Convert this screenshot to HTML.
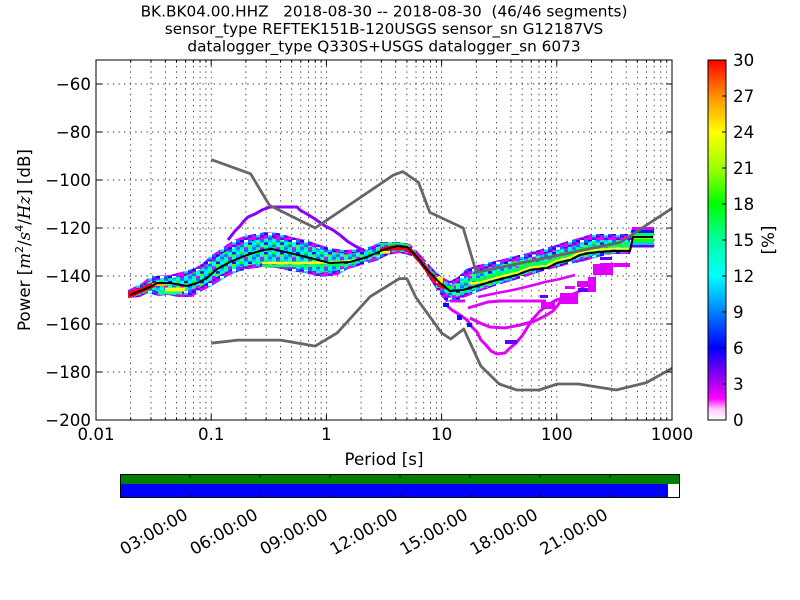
<!DOCTYPE html>
<html><head><meta charset="utf-8"><style>html,body{margin:0;padding:0;background:#fff;}svg{display:block;}</style></head>
<body>
<svg width="800" height="600" viewBox="0 0 800 600" xmlns="http://www.w3.org/2000/svg" font-family="'DejaVu Sans','Liberation Sans',sans-serif">
<defs>
<linearGradient id="cb" x1="0" y1="1" x2="0" y2="0">
<stop offset="0" stop-color="#ffffff"/>
<stop offset="0.03" stop-color="#ffc8ff"/>
<stop offset="0.06" stop-color="#ff00ff"/>
<stop offset="0.11" stop-color="#a000f0"/>
<stop offset="0.2" stop-color="#0000ff"/>
<stop offset="0.3" stop-color="#0080ff"/>
<stop offset="0.4" stop-color="#00ffff"/>
<stop offset="0.5" stop-color="#00ffa0"/>
<stop offset="0.6" stop-color="#00ff00"/>
<stop offset="0.7" stop-color="#a0ff00"/>
<stop offset="0.8" stop-color="#ffff00"/>
<stop offset="0.9" stop-color="#ff9000"/>
<stop offset="1" stop-color="#ff0000"/>
</linearGradient>
<pattern id="pe" width="12" height="7.2" patternUnits="userSpaceOnUse">
<rect x="0" y="0" width="4" height="2.4" fill="#e000fc"/><rect x="4" y="0" width="4" height="2.4" fill="#6400f5"/><rect x="8" y="0" width="4" height="2.4" fill="#e000fc"/>
<rect x="0" y="2.4" width="4" height="2.4" fill="#0014ff"/><rect x="4" y="2.4" width="4" height="2.4" fill="#ffffff"/><rect x="8" y="2.4" width="4" height="2.4" fill="#0073ff"/>
<rect x="0" y="4.8" width="4" height="2.4" fill="#e000fc"/><rect x="4" y="4.8" width="4" height="2.4" fill="#00c8ff"/><rect x="8" y="4.8" width="4" height="2.4" fill="#6400f5"/>
</pattern>
<pattern id="pc" width="16" height="9.6" patternUnits="userSpaceOnUse">
<rect x="0" y="0" width="4" height="2.4" fill="#00ffeb"/><rect x="4" y="0" width="4" height="2.4" fill="#0073ff"/><rect x="8" y="0" width="4" height="2.4" fill="#00ff96"/><rect x="12" y="0" width="4" height="2.4" fill="#00c8ff"/>
<rect x="0" y="2.4" width="4" height="2.4" fill="#00ff1e"/><rect x="4" y="2.4" width="4" height="2.4" fill="#00ffeb"/><rect x="8" y="2.4" width="4" height="2.4" fill="#0014ff"/><rect x="12" y="2.4" width="4" height="2.4" fill="#00ffeb"/>
<rect x="0" y="4.8" width="4" height="2.4" fill="#0073ff"/><rect x="4" y="4.8" width="4" height="2.4" fill="#00ffeb"/><rect x="8" y="4.8" width="4" height="2.4" fill="#50ff00"/><rect x="12" y="4.8" width="4" height="2.4" fill="#00c8ff"/>
<rect x="0" y="7.2" width="4" height="2.4" fill="#00ff96"/><rect x="4" y="7.2" width="4" height="2.4" fill="#e000fc"/><rect x="8" y="7.2" width="4" height="2.4" fill="#00ffeb"/><rect x="12" y="7.2" width="4" height="2.4" fill="#0073ff"/>
</pattern>
</defs>
<rect width="800" height="600" fill="#fff"/>

<!-- title -->
<g font-size="15.3" text-anchor="middle" fill="#000" style="white-space:pre">
<text x="384" y="16.5" xml:space="preserve">BK.BK04.00.HHZ   2018-08-30 -- 2018-08-30  (46/46 segments)</text>
<text x="384" y="34">sensor_type REFTEK151B-120USGS sensor_sn G12187VS</text>
<text x="384" y="51.5">datalogger_type Q330S+USGS datalogger_sn 6073</text>
</g>

<!-- grid -->
<g stroke="#000" stroke-width="0.7" stroke-dasharray="1.4,4.2" fill="none">
<path d="M130.68,420V60M150.96,420V60M165.36,420V60M176.52,420V60M185.64,420V60M193.35,420V60M200.04,420V60M205.93,420V60
M211.2,420V60M245.88,420V60M266.16,420V60M280.56,420V60M291.72,420V60M300.84,420V60M308.55,420V60M315.24,420V60M321.13,420V60
M326.4,420V60M361.08,420V60M381.36,420V60M395.76,420V60M406.92,420V60M416.04,420V60M423.75,420V60M430.44,420V60M436.33,420V60
M441.6,420V60M476.28,420V60M496.56,420V60M510.96,420V60M522.12,420V60M531.24,420V60M538.95,420V60M545.64,420V60M551.53,420V60
M556.8,420V60M591.48,420V60M611.76,420V60M626.16,420V60M637.32,420V60M646.44,420V60M654.15,420V60M660.84,420V60M666.73,420V60
M96,84H672M96,132H672M96,180H672M96,228H672M96,276H672M96,324H672M96,372H672"/>
</g>

<!-- histogram band -->
<polygon fill="url(#pe)" points="128,290 134,287 142,283 148,278 155,276 170,275 185,271 195,268 203,263 210,256 218,251 226,245 234,240 244,236 255,234 265,232 278,233 292,237 306,240 318,244 330,248 345,250 360,249 372,246 380,242 400,242 410,244 418,252 426,261 434,270 442,277 450,281 458,277 466,269 478,265 495,261 515,256 535,251 552,246 568,241 582,237 592,234 630,234 632,227 654,227 654,247 632,247 630,254 612,254 598,257 585,261 570,264 555,268 540,272 525,277 508,282 492,287 478,292 466,297 455,301 446,302 440,294 433,284 426,273 419,263 412,256 400,253 388,255 376,261 362,265 348,269 338,275 320,277 305,273 290,271 276,268 262,267 250,269 240,271 230,275 220,281 210,287 200,292 192,297 178,297 168,295 158,296 148,293 140,297 128,298"/>
<polygon fill="url(#pc)" points="131,292 140,288 150,281 165,279 185,276 200,270 212,261 225,252 240,245 255,240 270,238 290,242 310,246 330,252 350,254 370,250 382,245 400,245 412,249 422,259 432,271 442,280 452,285 462,280 475,272 495,266 520,260 545,254 570,247 595,240 630,240 630,252 600,254 580,259 560,264 540,269 520,276 500,283 480,289 465,294 452,298 442,290 432,278 422,266 412,254 400,251 385,253 372,259 355,264 340,270 320,273 300,269 280,265 262,263 245,266 230,270 215,278 200,287 185,291 165,292 150,291 140,295 131,297"/>

<!-- hot spots -->
<polygon fill="#ff0000" points="128,292 134,290 142,287 150,283 156,282 158,286 150,289 142,293 134,296 128,298"/>
<rect x="152" y="283" width="13" height="3" fill="#ffb400"/>
<rect x="165" y="287.5" width="20" height="4" fill="#ffff00"/>
<rect x="158" y="291.5" width="24" height="3" fill="#00ff96"/>
<polyline fill="none" stroke="#ffff00" stroke-width="2.5" points="262,263 300,263 340,262 358,260"/>
<polyline fill="none" stroke="#00ff60" stroke-width="2.5" points="262,266 300,266 345,265"/>
<polyline fill="none" stroke="#00ff60" stroke-width="2" points="380,244 400,243.5 410,246"/>
<polygon fill="#ff0000" points="380,248 390,245.5 405,245.5 412,249 418,255 425,264 432,273 440,281 446,286 444,290 436,285 428,275 420,264 413,256 405,250.5 390,250.5 380,252"/>
<rect x="380" y="251" width="10" height="2.5" fill="#ffff00"/>
<rect x="436" y="277" width="7" height="6" fill="#ffff00"/>
<rect x="446" y="286" width="8" height="3" fill="#00ff1e"/>
<polyline fill="none" stroke="#00ff50" stroke-width="3" points="470,280 480,279.5 497,274.5 517,269.5 530,264.5 547,262.5 557,257.5 570,254.5 580,249.5 590,247.5 600,246.5 613,245.5 630,245.5"/>
<polyline fill="none" stroke="#ffff00" stroke-width="2" points="470,283 480,282.5 497,277.5 517,272.5 530,267.5 547,265.5 557,260.5 570,257.5 580,252.5 590,250.5 600,249.5 613,248.5 630,248.5"/>
<rect x="632" y="227" width="22" height="3" fill="#e000fc"/>
<rect x="632" y="230" width="22" height="3" fill="#0014ff"/>
<rect x="632" y="233" width="22" height="3.5" fill="#00ff60"/>
<rect x="632" y="236.5" width="22" height="2" fill="#ffff00"/>
<rect x="632" y="238.5" width="22" height="4" fill="#00ff1e"/>
<rect x="632" y="242.5" width="22" height="2.5" fill="#00c8ff"/>
<rect x="632" y="245" width="22" height="2.5" fill="#6400f5"/>

<!-- secondary traces -->
<g fill="none" stroke="#e000fc" stroke-width="3" stroke-linejoin="miter">
<polyline points="444,303 452,310 460,315 467,320 472,327 477,332 481,340 486,345 491,351 497,354 505,353 510,348 516,343 522,336 527,328 532,320 540,311 548,305 556,300 566,297 578,292 586,284"/>
<polyline points="450,301 465,301"/>
<polyline points="468,308 478,305 488,302 500,301 546,301"/>
<polyline points="470,318 480,323 490,327 505,328 520,325 535,321 545,316 553,311 558,305 562,298"/>
<polyline stroke-width="2.5" points="478,297 497,293 513,290 530,286 545,282 560,279 575,275"/>
</g>
<g fill="#0014ff">
<rect x="443" y="303" width="6" height="4"/><rect x="457" y="315" width="5" height="5"/><rect x="467" y="323" width="5" height="4"/>
</g>
<g fill="#6400f5">
<rect x="505" y="340" width="12" height="4"/><rect x="578" y="288" width="10" height="4"/><rect x="600" y="257" width="12" height="3"/><rect x="540" y="295" width="8" height="3"/>
</g>
<g fill="#e000fc">
<rect x="593" y="264" width="20" height="11"/>
<rect x="600" y="263" width="30" height="4"/>
<rect x="588" y="277" width="8" height="15"/>
<rect x="577" y="281" width="11" height="6"/>
<rect x="560" y="293" width="18" height="11"/>
<rect x="541" y="302" width="14" height="7"/>
<rect x="565" y="286" width="10" height="3"/>
</g>
<polyline fill="none" stroke="#8a00ff" stroke-width="3" points="228,240 235,231 240,226 244,221 248,217 255,214 262,210 270,207 297,207 300,210 307,214 315,219 325,226 333,230 340,235 347,241 355,246 365,251"/>

<!-- noise models -->
<g fill="none" stroke="#666" stroke-width="2.8" stroke-linejoin="round">
<polyline points="211.2,159.6 250.6,173.8 269.4,205.2 315.2,228 393.2,175.2 402.8,171.6 418.5,182.4 429.8,212.4 463.2,228 476.3,272.4 620.2,242.4 672,208.3"/>
<polyline points="211.2,343.2 237.7,340.1 280.6,340.1 315.2,346.1 337.2,332.9 370.2,296.6 399.4,278.6 406.9,278.6 416,297.6 441.6,333 450.7,339 463.8,329 480.8,366 499.2,384 516.8,390 539,390 557.3,384 578.4,384 616.2,390 646.4,382.6 672,368.4"/>
</g>

<!-- mean -->
<polyline fill="none" stroke="#000" stroke-width="2" stroke-linejoin="round" points="130,295 140,291 150,287 157,283 170,283 187,286 197,283 207,278 217,269 230,262 247,255 263,250 272,249 290,253 310,258 330,263 350,262 367,257 383,250 397,246 407,247 417,257 427,270 440,283 450,291 463,290 480,285 497,280 517,275 530,270 547,268 557,263 570,260 580,255 590,253 600,252 613,251 630,251 633,237 653,237"/>

<!-- axes frame & ticks -->
<rect x="96" y="60" width="576" height="360" fill="none" stroke="#000" stroke-width="1"/>
<g stroke="#000" stroke-width="1" fill="none">
<path d="M211.2,420v-5.6M326.4,420v-5.6M441.6,420v-5.6M556.8,420v-5.6M211.2,60v5.6M326.4,60v5.6M441.6,60v5.6M556.8,60v5.6"/>
<path d="M130.68,420v-2.8M150.96,420v-2.8M165.36,420v-2.8M176.52,420v-2.8M185.64,420v-2.8M193.35,420v-2.8M200.04,420v-2.8M205.93,420v-2.8M245.88,420v-2.8M266.16,420v-2.8M280.56,420v-2.8M291.72,420v-2.8M300.84,420v-2.8M308.55,420v-2.8M315.24,420v-2.8M321.13,420v-2.8M361.08,420v-2.8M381.36,420v-2.8M395.76,420v-2.8M406.92,420v-2.8M416.04,420v-2.8M423.75,420v-2.8M430.44,420v-2.8M436.33,420v-2.8M476.28,420v-2.8M496.56,420v-2.8M510.96,420v-2.8M522.12,420v-2.8M531.24,420v-2.8M538.95,420v-2.8M545.64,420v-2.8M551.53,420v-2.8M591.48,420v-2.8M611.76,420v-2.8M626.16,420v-2.8M637.32,420v-2.8M646.44,420v-2.8M654.15,420v-2.8M660.84,420v-2.8M666.73,420v-2.8"/>
<path d="M130.68,60v2.8M150.96,60v2.8M165.36,60v2.8M176.52,60v2.8M185.64,60v2.8M193.35,60v2.8M200.04,60v2.8M205.93,60v2.8M245.88,60v2.8M266.16,60v2.8M280.56,60v2.8M291.72,60v2.8M300.84,60v2.8M308.55,60v2.8M315.24,60v2.8M321.13,60v2.8M361.08,60v2.8M381.36,60v2.8M395.76,60v2.8M406.92,60v2.8M416.04,60v2.8M423.75,60v2.8M430.44,60v2.8M436.33,60v2.8M476.28,60v2.8M496.56,60v2.8M510.96,60v2.8M522.12,60v2.8M531.24,60v2.8M538.95,60v2.8M545.64,60v2.8M551.53,60v2.8M591.48,60v2.8M611.76,60v2.8M626.16,60v2.8M637.32,60v2.8M646.44,60v2.8M654.15,60v2.8M660.84,60v2.8M666.73,60v2.8"/>
<path d="M96,84h5.6M96,132h5.6M96,180h5.6M96,228h5.6M96,276h5.6M96,324h5.6M96,372h5.6M672,84h-5.6M672,132h-5.6M672,180h-5.6M672,228h-5.6M672,276h-5.6M672,324h-5.6M672,372h-5.6"/>
</g>

<!-- tick labels -->
<g font-size="16.67" fill="#000" text-anchor="end">
<text x="91" y="90">−60</text>
<text x="91" y="138">−80</text>
<text x="91" y="186">−100</text>
<text x="91" y="234">−120</text>
<text x="91" y="282">−140</text>
<text x="91" y="330">−160</text>
<text x="91" y="378">−180</text>
<text x="91" y="426">−200</text>
</g>
<g font-size="16.67" fill="#000" text-anchor="middle">
<text x="96" y="440">0.01</text>
<text x="211.2" y="440">0.1</text>
<text x="326.4" y="440">1</text>
<text x="441.6" y="440">10</text>
<text x="556.8" y="440">100</text>
<text x="672" y="440">1000</text>
<text x="384" y="465">Period [s]</text>
</g>
<text transform="translate(30,240) rotate(-90)" text-anchor="middle" font-size="16.67" fill="#000">Power [<tspan font-family="'DejaVu Serif','Liberation Serif',serif" font-style="italic">m</tspan><tspan font-size="11" dy="-7">2</tspan><tspan dy="7">/</tspan><tspan font-family="'DejaVu Serif','Liberation Serif',serif" font-style="italic">s</tspan><tspan font-size="11" dy="-7">4</tspan><tspan dy="7">/</tspan><tspan font-family="'DejaVu Serif','Liberation Serif',serif" font-style="italic">Hz</tspan>] [dB]</text>

<!-- colorbar -->
<rect x="708" y="60" width="18" height="360" fill="url(#cb)" stroke="#000" stroke-width="1"/>
<g stroke="#000" stroke-width="1">
<path d="M726,96h-4M726,132h-4M726,168h-4M726,204h-4M726,240h-4M726,276h-4M726,312h-4M726,348h-4M726,384h-4"/>
</g>
<g font-size="16.67" fill="#000">
<text x="733" y="66">30</text>
<text x="733" y="102">27</text>
<text x="733" y="138">24</text>
<text x="733" y="174">21</text>
<text x="733" y="210">18</text>
<text x="733" y="246">15</text>
<text x="733" y="282">12</text>
<text x="733" y="318">9</text>
<text x="733" y="354">6</text>
<text x="733" y="390">3</text>
<text x="733" y="426">0</text>
</g>
<text transform="translate(774,240) rotate(-90)" text-anchor="middle" font-size="16.67" fill="#000">[%]</text>

<!-- timeline -->
<rect x="120" y="474" width="560" height="24" fill="#fff"/>
<rect x="120" y="474" width="560" height="10" fill="#008000"/>
<rect x="120" y="484" width="548" height="14" fill="#0000ff"/>
<rect x="120.5" y="474.5" width="559" height="23" fill="none" stroke="#000" stroke-width="1"/>
<g stroke="#000" stroke-width="1">
<path d="M190,474v4M260,474v4M330,474v4M400,474v4M470,474v4M540,474v4M610,474v4M190,498v-4M260,498v-4M330,498v-4M400,498v-4M470,498v-4M540,498v-4M610,498v-4"/>
</g>
<g font-size="16.67" fill="#000" text-anchor="end">
<text transform="translate(189,518) rotate(-30)">03:00:00</text>
<text transform="translate(259,518) rotate(-30)">06:00:00</text>
<text transform="translate(329,518) rotate(-30)">09:00:00</text>
<text transform="translate(399,518) rotate(-30)">12:00:00</text>
<text transform="translate(469,518) rotate(-30)">15:00:00</text>
<text transform="translate(539,518) rotate(-30)">18:00:00</text>
<text transform="translate(609,518) rotate(-30)">21:00:00</text>
</g>
</svg>
</body></html>
